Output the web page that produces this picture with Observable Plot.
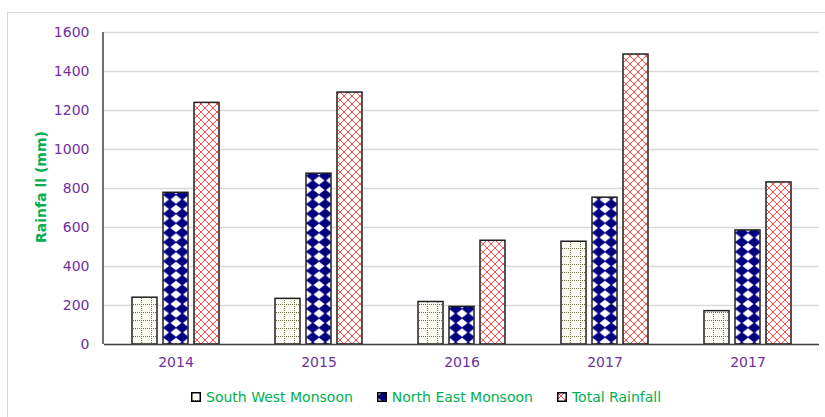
<!DOCTYPE html>
<html>
<head>
<meta charset="utf-8">
<script src="https://cdn.jsdelivr.net/npm/d3@7"></script>
<script src="https://cdn.jsdelivr.net/npm/@observablehq/plot@0.6"></script>
<style>
  body { margin: 0; background: #fff; font-family: "DejaVu Sans", sans-serif; }
  #wrap { position: relative; width: 825px; height: 417px; overflow: hidden; }
  #border { position: absolute; left: 7px; top: 12px; width: 900px; height: 500px; border: 1px solid #d9d9d9; box-sizing: border-box; }
  #chart { position: absolute; left: 0; top: 0; }
  #ytitle { position: absolute; left: 41px; top: 187px; transform: translate(-50%, -50%) rotate(-90deg);
            color: #00B050; font-weight: bold; font-size: 14px; white-space: nowrap; }
  #legend { position: absolute; top: 389px; left: 191px; display: flex; gap: 24px; font-size: 14px; color: #00B050; }
  .item { display: flex; align-items: center; }
  .item svg { margin-right: 5px; }
</style>
</head>
<body>
<div id="wrap">
  <div id="border"></div>
  <div id="chart"></div>
  <div id="ytitle">Rainfa ll (mm)</div>
  <div id="legend"></div>
</div>
<script>
// Seasonal rainfall per year (mm)
const years = ["2014", "2015", "2016", "2017", "2017"];
const series = ["South West Monsoon", "North East Monsoon", "Total Rainfall"];
const southWest = [240, 234, 218, 527, 171];
const northEast = [778, 876, 193, 753, 585];
const totalRain = [1239, 1292, 532, 1487, 831];
const yTicks = [0, 200, 400, 600, 800, 1000, 1200, 1400, 1600];

const purple = "#7030A0";
const patternIds = ["pat-sw", "pat-ne", "pat-tr"];
const fills = Object.fromEntries(series.map((s, k) => [s, `url(#${patternIds[k]})`]));

const valuesBySeries = [southWest, northEast, totalRain];
const rows = years.flatMap((yr, i) =>
  series.map((s, k) => ({i, year: yr, series: s, value: valuesBySeries[k][i]}))
);

const marginLeft = 103;

const plot = Plot.plot({
  width: 825,
  height: 380,
  marginTop: 32,
  marginBottom: 36,
  marginLeft,
  marginRight: 6,
  style: {fontFamily: "DejaVu Sans, sans-serif", fontSize: "14px", background: "transparent"},
  fx: {domain: d3.range(years.length), padding: 0, label: null, axis: null},
  x: {domain: series, paddingInner: 0.2, paddingOuter: 0.84, axis: null},
  y: {domain: [0, 1600], label: null},
  marks: [
    Plot.gridY(yTicks, {stroke: "#d9d9d9", strokeOpacity: 1, strokeWidth: 1.5}),
    ...series.map(s =>
      Plot.barY(rows.filter(d => d.series === s), {
        fx: "i", x: "series", y: "value",
        fill: fills[s], stroke: "#1f1f1f", strokeWidth: 1.5
      })
    ),
    Plot.ruleY([0], {stroke: "#404040", strokeWidth: 1.5}),
    Plot.axisY(yTicks, {tickSize: 0, tickPadding: 15, tickFormat: "d", fill: purple, fontSize: 14, label: null}),
    Plot.axisFx({anchor: "bottom", tickSize: 0, tickPadding: 13, tickFormat: i => years[i], fill: purple, fontSize: 14, label: null})
  ]
});

// Fill patterns for the three series
const defs = d3.select(plot).insert("defs", ":first-child");

const sw = defs.append("pattern").attr("id", "pat-sw").attr("patternUnits", "userSpaceOnUse")
  .attr("width", 10).attr("height", 8);
sw.append("rect").attr("width", 10).attr("height", 8).attr("fill", "#fdfdf6");
sw.append("path").attr("d", "M0,0.5H10M0.5,0V8").attr("stroke", "#6f6f48").attr("stroke-width", 1)
  .attr("stroke-dasharray", "1,1");

const ne = defs.append("pattern").attr("id", "pat-ne").attr("patternUnits", "userSpaceOnUse")
  .attr("width", 12.5).attr("height", 9.5);
ne.append("rect").attr("width", 12.5).attr("height", 9.5).attr("fill", "#ffffff");
ne.append("polygon").attr("points", "6.25,-0.6 13.1,4.75 6.25,10.1 -0.6,4.75").attr("fill", "#000080");

const tr = defs.append("pattern").attr("id", "pat-tr").attr("patternUnits", "userSpaceOnUse")
  .attr("width", 8).attr("height", 8);
tr.append("rect").attr("width", 8).attr("height", 8).attr("fill", "#ffffff");
tr.append("path").attr("d", "M0,0L8,8M8,0L0,8").attr("stroke", "#ff4a4a").attr("stroke-width", 1);

// Vertical y-axis line along the left edge of the first facet
const y = plot.scale("y");
d3.select(plot).append("line")
  .attr("x1", marginLeft).attr("x2", marginLeft)
  .attr("y1", y.apply(1600)).attr("y2", y.apply(0))
  .attr("stroke", "#404040").attr("stroke-width", 1.5);

document.getElementById("chart").append(plot);

// Legend
const legend = d3.select("#legend");
series.forEach((s, k) => {
  const item = legend.append("div").attr("class", "item");
  const sv = item.append("svg").attr("width", 10).attr("height", 10);
  sv.append("rect").attr("x", 0.75).attr("y", 0.75).attr("width", 8.5).attr("height", 8.5)
    .attr("fill", fills[s]).attr("stroke", "#000").attr("stroke-width", 1.5);
  item.append("span").text(s);
});
</script>
</body>
</html>
